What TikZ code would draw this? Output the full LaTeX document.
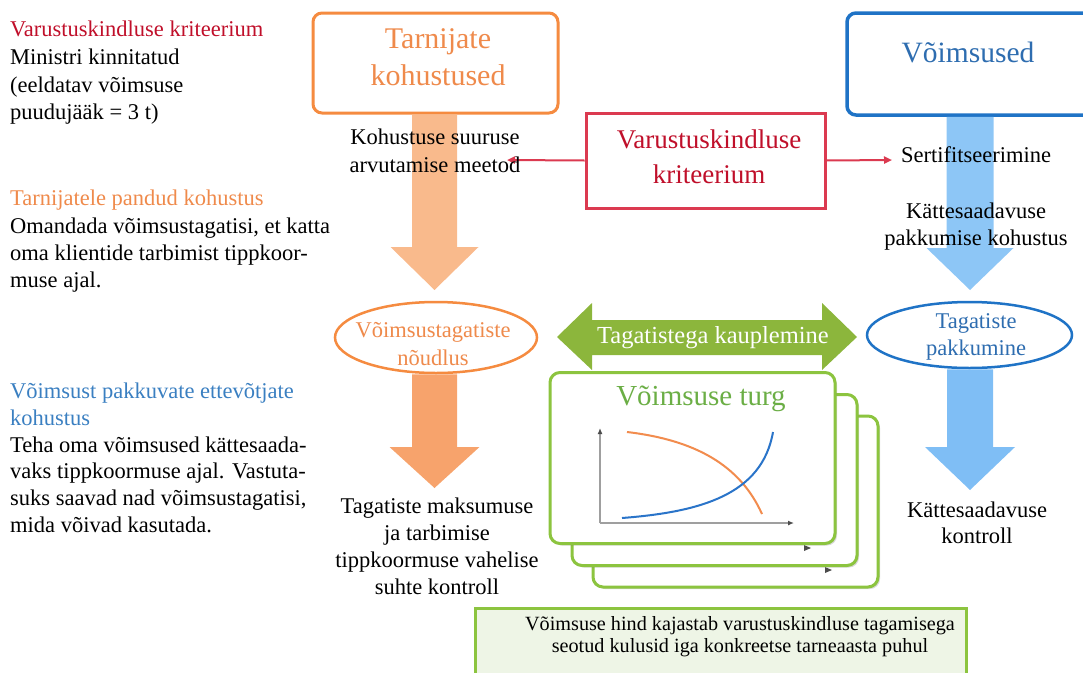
\documentclass[tikz,border=0pt]{standalone}
\usepackage{fontspec}
\setmainfont{Liberation Serif}
\usetikzlibrary{calc,shapes.geometric,arrows.meta,shadows}
\definecolor{cRedT}{HTML}{C00F2A}
\definecolor{cRedB}{HTML}{DB3A50}
\definecolor{cOrT}{HTML}{EF8A4B}
\definecolor{cOrB}{HTML}{F58B40}
\definecolor{cOrA}{HTML}{F9BA8C}
\definecolor{cOrA2}{HTML}{F7A36C}
\definecolor{cBlT}{HTML}{2E6DB0}
\definecolor{cBlH}{HTML}{3A7FC1}
\definecolor{cBlB}{HTML}{1F73C6}
\definecolor{cBlA}{HTML}{8DC6F6}
\definecolor{cBlA2}{HTML}{7FBEF5}
\definecolor{cGrA}{HTML}{8CB63C}
\definecolor{cGrB}{HTML}{8CC43F}
\definecolor{cGrT}{HTML}{6BAE45}
\definecolor{cGrF}{HTML}{EEF5E6}
\definecolor{cCurO}{HTML}{F28C4E}
\definecolor{cCurB}{HTML}{2A74C9}
% fat block arrow: #1 start, #2 tip, #3 colour, #4 shaft half width, #5 head half width, #6 head length
\newcommand\fatarrow[6]{%
  \fill[#3] let \p1=(#1), \p2=(#2) in
    (\x2-#4,\y1) -- (\x2+#4,\y1) -- (\x2+#4,\y2+#6) -- (\x2+#5,\y2+#6)
    -- (\x2,\y2) -- (\x2-#5,\y2+#6) -- (\x2-#4,\y2+#6) -- cycle;}
\begin{document}
\begin{tikzpicture}[x=1pt,y=-1pt,
  tx/.style={inner sep=0pt,anchor=base},
  txl/.style={inner sep=0pt,anchor=base west},
  bodyfont/.style={font=\fontsize{22.5}{27}\selectfont},
  bigfont/.style={font=\fontsize{30}{37}\selectfont},
  redfont/.style={font=\fontsize{27}{33}\selectfont},
  smallfont/.style={font=\fontsize{20.2}{24}\selectfont},
  card/.style={draw=cGrB,line width=3pt,fill=white,rounded corners=10pt,
    minimum width=285pt,minimum height=171pt,inner sep=0pt,
    drop shadow={shadow xshift=2pt,shadow yshift=-2pt,opacity=0.3}},
  axisline/.style={draw=gray!75,line width=1.3pt},
  tipmark/.style={fill=black!70},
  redline/.style={draw=cRedB,line width=2pt,-{Triangle[length=8pt,width=7pt]}}]
\path[use as bounding box] (0,0) rectangle (1083,672);
\clip (0,0) rectangle (1083,672);

% ---------- boxes and ellipses ----------
\node[draw=cOrB,line width=3pt,fill=white,rounded corners=9pt,minimum width=245pt,minimum height=100pt,inner sep=0pt] (tk) at (435.5,63) {};
\node[draw=cBlB,line width=3.5pt,fill=white,rounded corners=9pt,minimum width=250pt,minimum height=102pt,inner sep=0pt] (vb) at (972,64) {};
\node[draw=cRedB,line width=3pt,fill=white,minimum width=239pt,minimum height=95pt,inner sep=0pt] (rb) at (705.5,160.5) {};
\node[ellipse,draw=cOrB,line width=2.5pt,fill=white,minimum width=202pt,minimum height=71pt,inner sep=0pt] (oe) at (436,337.5) {};
\node[ellipse,draw=cBlB,line width=2.5pt,fill=white,minimum width=205pt,minimum height=66pt,inner sep=0pt] (be) at (969.5,335) {};

% ---------- fat arrows ----------
\coordinate (o1tip) at (434.5,290);
\coordinate (o2tip) at (434.5,488);
\coordinate (b1tip) at (970,290);
\coordinate (b2tip) at (970,490);
\fatarrow{tk.south}{o1tip}{cOrA}{22.5pt}{44pt}{43pt}
\fatarrow{oe.south}{o2tip}{cOrA2}{22.5pt}{45pt}{41pt}
\fatarrow{vb.south}{b1tip}{cBlA}{23.5pt}{43.5pt}{42pt}
\fatarrow{be.south}{b2tip}{cBlA2}{23pt}{45pt}{43pt}

% ---------- red connectors ----------
\coordinate (rL) at (507,160);
\coordinate (rR) at (892,160);
\draw[redline] (rb.west) -- (rL);
\draw[redline] (rb.east) -- (rR);

% ---------- green double arrow ----------
\coordinate (gL) at (557,337);
\coordinate (gR) at (857,337);
\fill[cGrA] let \p1=(gL), \p2=(gR) in
  (\x1,\y1) -- (\x1+35pt,\y1+34pt) -- (\x1+35pt,\y1+17pt) -- (\x2-35pt,\y1+17pt)
  -- (\x2-35pt,\y1+34pt) -- (\x2,\y1) -- (\x2-35pt,\y1-33pt) -- (\x2-35pt,\y1-18pt)
  -- (\x1+35pt,\y1-18pt) -- (\x1+35pt,\y1-33pt) -- cycle;
\node[tx,font=\fontsize{24.5}{29}\selectfont,text=white] (gt) at (713,343) {Tagatistega kauplemine};

% ---------- market cards ----------
\node[card] (c3) at (735.5,501.5) {};
\fill[tipmark] (832,570) -- (825,567) -- (825,573) -- cycle;
\node[card] (c2) at (714.5,480) {};
\fill[tipmark] (811,548) -- (804,545) -- (804,551) -- cycle;
\node[card] (c1) at (692.5,458) {};
\node[tx,font=\fontsize{29}{35}\selectfont,text=cGrT] (mt) at (701,405) {Võimsuse turg};
\coordinate (ax0) at (600,523);
\coordinate (axy) at (600,428);
\coordinate (axx) at (794,523);
\draw[axisline,-{Latex[length=6pt,width=5pt,color=black!70]}] (ax0) -- (axy);
\draw[axisline,-{Latex[length=6pt,width=5pt,color=black!70]}] (ax0) -- (axx);
\draw[cCurO,line width=2pt] (627,432) .. controls (695,440) and (740,465) .. (762,514);
\draw[cCurB,line width=2pt] (622,518) .. controls (700,512) and (762,495) .. (773,432);

% ---------- bottom green box ----------
\node[draw=cGrB,fill=cGrF,line width=3pt,minimum width=491pt,minimum height=80pt,inner sep=0pt,
  drop shadow={shadow xshift=1.5pt,shadow yshift=-1.5pt,opacity=0.25}] (gb) at (720.5,648) {};
\node[tx,smallfont] (gb1) at (740,630) {Võimsuse hind kajastab varustuskindluse tagamisega};
\node[tx,smallfont] (gb2) at (740,652) {seotud kulusid iga konkreetse tarneaasta puhul};

% ---------- texts in boxes ----------
\node[tx,bigfont,text=cOrT] (tk1) at (438,48) {Tarnijate};
\node[tx,bigfont,text=cOrT] (tk2) at (438,85) {kohustused};
\node[tx,font=\fontsize{29.5}{36}\selectfont,text=cBlT] (vb1) at (968,62) {Võimsused};
\node[tx,redfont,text=cRedT] (rb1) at (709,148) {Varustuskindluse};
\node[tx,redfont,text=cRedT] (rb2) at (709,183) {kriteerium};
\node[tx,bodyfont,text=cOrT] (oe1) at (433,337) {Võimsustagatiste};
\node[tx,bodyfont,text=cOrT] (oe2) at (433,365) {nõudlus};
\node[tx,bodyfont,text=cBlT] (be1) at (976,328) {Tagatiste};
\node[tx,bodyfont,text=cBlT] (be2) at (976,355) {pakkumine};

% ---------- texts along the arrows ----------
\node[tx,bodyfont] (k1) at (435,144) {Kohustuse suuruse};
\node[tx,bodyfont] (k2) at (435,172) {arvutamise meetod};
\node[tx,bodyfont] (s1) at (976,162) {Sertifitseerimine};
\node[tx,bodyfont] (p1) at (976,218) {Kättesaadavuse};
\node[tx,bodyfont] (p2) at (976,245) {pakkumise kohustus};
\node[tx,bodyfont] (m1) at (437,513) {Tagatiste maksumuse};
\node[tx,bodyfont] (m2) at (437,540) {ja tarbimise};
\node[tx,bodyfont] (m3) at (437,567) {tippkoormuse vahelise};
\node[tx,bodyfont] (m4) at (437,594) {suhte kontroll};
\node[tx,bodyfont] (kk1) at (977,517) {Kättesaadavuse};
\node[tx,bodyfont] (kk2) at (977,543) {kontroll};

% ---------- left column ----------
\node[txl,bodyfont,text=cRedT] (l1) at (10,36) {Varustuskindluse kriteerium};
\node[txl,bodyfont] (l2) at (10,64) {Ministri kinnitatud};
\node[txl,bodyfont] (l3) at (10,92) {(eeldatav võimsuse};
\node[txl,bodyfont] (l4) at (10,119) {puudujääk = 3 t)};
\node[txl,bodyfont,text=cOrT] (l5) at (10,205) {Tarnijatele pandud kohustus};
\node[txl,bodyfont] (l6) at (10,233) {Omandada võimsustagatisi, et katta};
\node[txl,bodyfont] (l7) at (10,260) {oma klientide tarbimist tippkoor-};
\node[txl,bodyfont] (l8) at (10,287) {muse ajal.};
\node[txl,bodyfont,text=cBlH] (l9) at (10,398) {Võimsust pakkuvate ettevõtjate};
\node[txl,bodyfont,text=cBlH] (l10) at (10,425) {kohustus};
\node[txl,bodyfont] (l11) at (10,452) {Teha oma võimsused kättesaada-};
\node[txl,bodyfont] (l12) at (10,478) {vaks tippkoormuse ajal. Vastuta-};
\node[txl,bodyfont] (l13) at (10,505) {suks saavad nad võimsustagatisi,};
\node[txl,bodyfont] (l14) at (10,532) {mida võivad kasutada.};
\end{tikzpicture}
\end{document}
